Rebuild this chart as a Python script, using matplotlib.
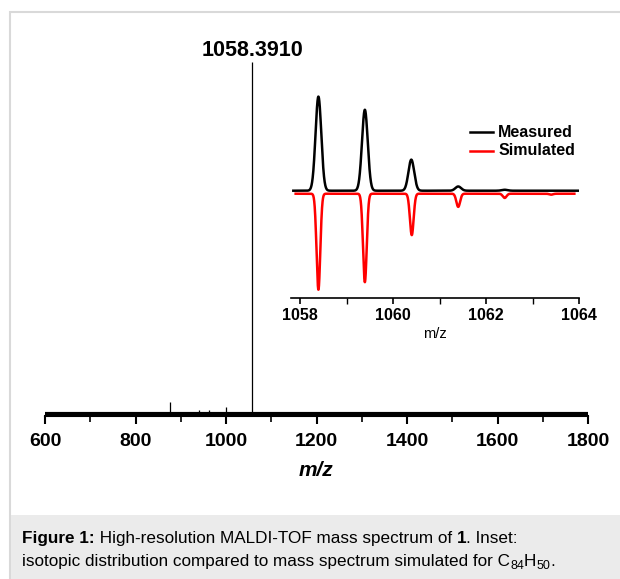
import numpy as np
import matplotlib.pyplot as plt
from matplotlib.patches import Rectangle

# full spectrum: peak list (m/z, relative intensity)
main_mz = [877.0, 940.0, 962.0, 1000.0, 1058.391]
main_int = [3.2, 0.8, 0.9, 1.6, 100.0]
main_label = "1058.3910"

# inset: isotope pattern
meas_mz = [1058.39, 1059.39, 1060.39, 1061.40, 1062.40]
meas_int = [100, 86, 33, 4.5, 1.0]
sim_mz = [1058.39, 1059.39, 1060.40, 1061.40, 1062.40, 1063.40]
sim_int = [102, 94, 44, 14, 4.5, 1.0]
sim_offset = -3.2
legend_names = ['Measured', 'Simulated']
legend_colors = ['black', 'red']

plt.rcParams['font.family'] = ['Liberation Sans', 'DejaVu Sans']

fig = plt.figure(figsize=(6.2, 5.79), dpi=100)

# page frame and caption box
fig.patches.append(Rectangle((10 / 620, 0), 1, 1 - 12 / 579, transform=fig.transFigure,
                             facecolor='none', edgecolor='#d9d9d9', lw=1.5))
fig.patches.append(Rectangle((11 / 620, 0), 1, 64 / 579, transform=fig.transFigure,
                             facecolor='#ebebeb', edgecolor='none'))

# main spectrum
ax = fig.add_axes([45 / 620, 1 - 416 / 579, 543 / 620, 376 / 579])
ax.plot([600, 1800], [-0.2, -0.2], color='black', lw=3.0, solid_capstyle='butt')
ax.vlines(main_mz, 0, main_int, color='black', lw=0.9)
ax.text(main_mz[-1], 101.7, main_label, ha='center', va='baseline', fontsize=15.5, fontweight='bold')
ax.set_xlim(600, 1800)
ax.set_ylim(-0.85, 106.3)
for s in ['left', 'top', 'right']:
    ax.spines[s].set_visible(False)
ax.spines['bottom'].set_linewidth(1.5)
ax.set_yticks([])
ax.set_xticks(np.arange(600, 1801, 200))
ax.set_xticks(np.arange(600, 1801, 100), minor=True)
ax.tick_params(axis='x', which='major', length=6, width=1.5, labelsize=14, pad=6)
ax.tick_params(axis='x', which='minor', length=4, width=1.2)
for t in ax.get_xticklabels():
    t.set_fontweight('bold')
ax.set_xlabel('m/z', fontsize=15, fontweight='bold', fontstyle='italic', labelpad=8)

# inset
ins = fig.add_axes([291 / 620, 1 - 298 / 579, 288 / 620, 208 / 579])
x = np.linspace(1057.85, 1064.0, 3000)
meas = np.zeros_like(x)
for m, h in zip(meas_mz, meas_int):
    meas += h * np.exp(-0.5 * ((x - m) / 0.062) ** 2)
xs = np.linspace(1057.9, 1063.9, 3000)
sim = np.zeros_like(xs)
for m, h in zip(sim_mz, sim_int):
    sim += h * np.exp(-0.5 * ((xs - m) / 0.04) ** 2)
ins.plot(xs, sim_offset - sim, color='red', lw=1.8)
ins.plot(x, meas, color='black', lw=1.8)
ins.set_xlim(1057.8, 1064.0)
ins.set_ylim(-114, 107)
for s in ['left', 'top', 'right']:
    ins.spines[s].set_visible(False)
ins.spines['bottom'].set_linewidth(1.2)
ins.set_yticks([])
ins.set_xticks([1058, 1060, 1062, 1064])
ins.set_xticks([1059, 1061, 1063], minor=True)
ins.tick_params(axis='x', which='major', length=4, width=1.2, labelsize=11.5, pad=3)
ins.tick_params(axis='x', which='minor', length=4, width=1.0)
for t in ins.get_xticklabels():
    t.set_fontweight('bold')
ins.set_xlabel('m/z', fontsize=10.5, labelpad=3)

# legend drawn by hand to match spacing
for i, (name, col) in enumerate(zip(legend_names, legend_colors)):
    yy = 0.798 - i * 0.091
    ins.plot([0.622, 0.701], [yy, yy], color=col, lw=1.8, transform=ins.transAxes)
    ins.text(0.719, yy, name, transform=ins.transAxes, va='center', ha='left',
             fontsize=11.5, fontweight='bold')

# caption
fig.canvas.draw()
r = fig.canvas.get_renderer()


def put(parts, x0, y0):
    xp = x0
    for txt, w, sz, dy in parts:
        t = fig.text(xp / 620, 1 - (y0 + dy) / 579, txt, fontsize=sz, fontweight=w,
                     ha='left', va='baseline')
        xp += t.get_window_extent(r).width


put([("Figure 1:", 'bold', 12.3, 0), (" High-resolution MALDI-TOF mass spectrum of ", 'normal', 12.3, 0),
     ("1", 'bold', 12.3, 0), (". Inset:", 'normal', 12.3, 0)], 22, 543)
put([("isotopic distribution compared to mass spectrum simulated for C", 'normal', 12.3, 0),
     ("84", 'normal', 9, 3), ("H", 'normal', 12.3, 0), ("50", 'normal', 9, 3), (".", 'normal', 12.3, 0)], 22, 566)

fig.savefig('out.png', dpi=100)
